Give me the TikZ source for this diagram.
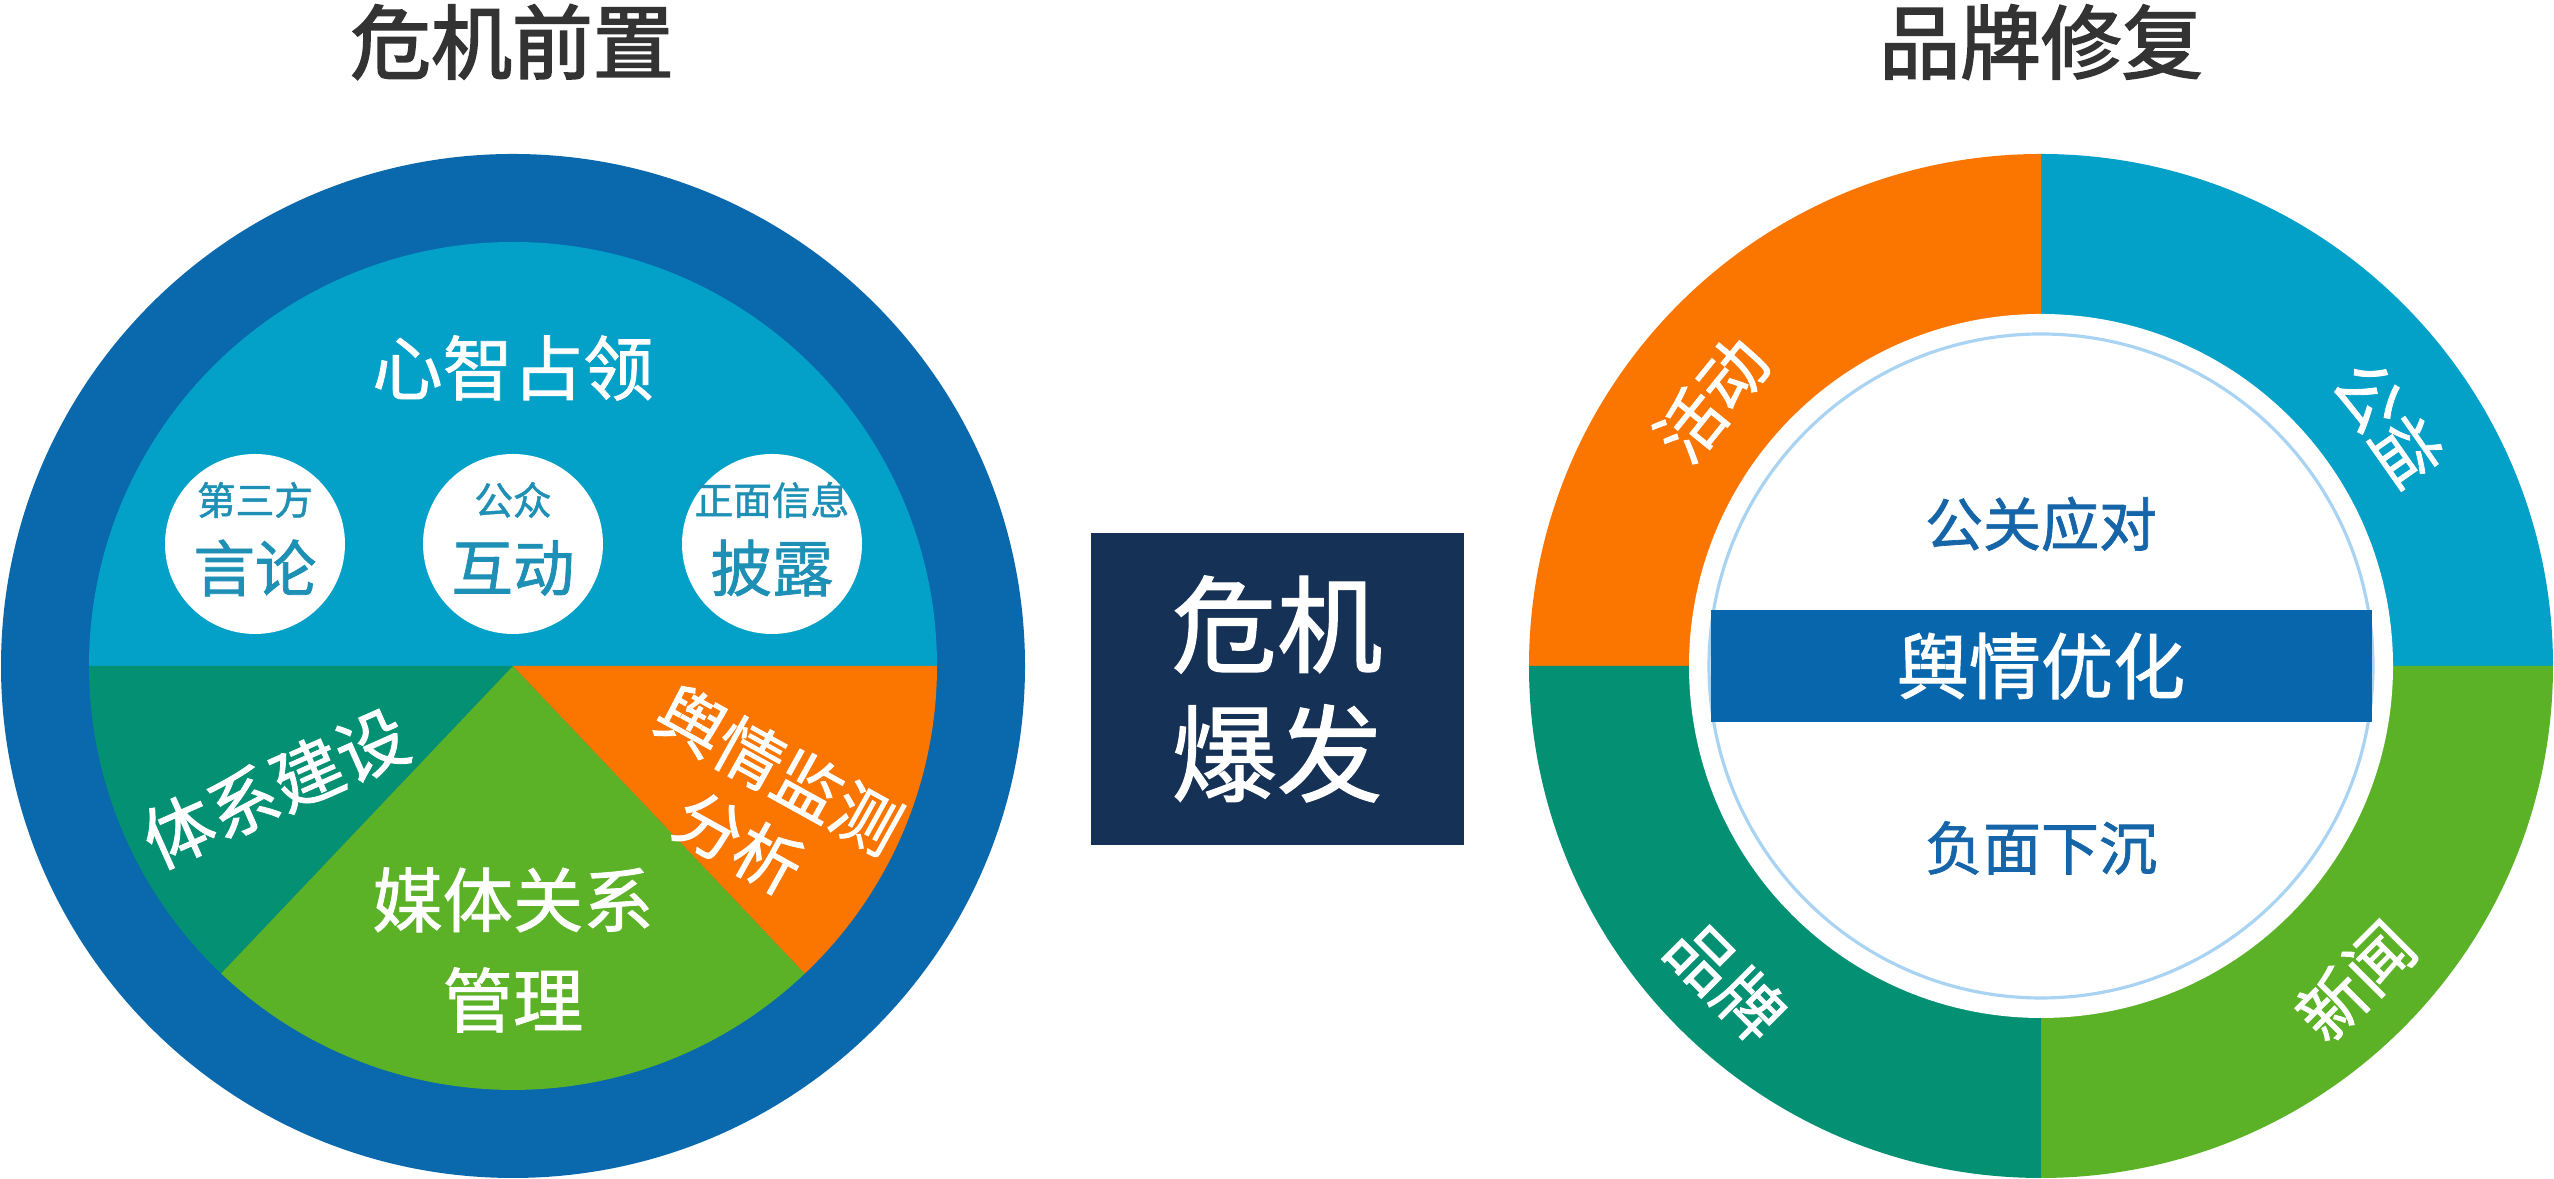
\documentclass[tikz,border=0pt]{standalone}
\usepackage{fontspec}
\setmainfont{Noto Sans CJK SC}[FakeBold=1.2]
\newfontfamily\headfont{Noto Sans CJK SC}[FakeBold=2.2]
\definecolor{ringblue}{HTML}{0A68AD}
\definecolor{skyblue}{HTML}{03A0C8}
\definecolor{tealgreen}{HTML}{049073}
\definecolor{leafgreen}{HTML}{5CB227}
\definecolor{signalorange}{HTML}{FB7600}
\definecolor{navybox}{HTML}{153156}
\definecolor{bandblue}{HTML}{0866AD}
\definecolor{dottext}{HTML}{1E90B6}
\definecolor{innertext}{HTML}{1565A8}
\definecolor{thinring}{HTML}{A9D3F2}
\definecolor{titlegray}{HTML}{333333}

\begin{document}
\begin{tikzpicture}[
    title/.style={text=titlegray, font=\headfont\fontsize{23}{28}\selectfont},
    lbl/.style={text=white, align=center, font=\fontsize{20}{28.5}\selectfont},
    ringlbl/.style={text=white, font=\fontsize{19}{23}\selectfont},
    dot/.style={circle, fill=white, minimum size=1.8cm, inner sep=0pt},
    dotsmall/.style={text=dottext, font=\fontsize{11}{13}\selectfont},
    dotbig/.style={text=dottext, font=\fontsize{17.5}{21}\selectfont},
    innerlbl/.style={text=innertext, font=\fontsize{16.5}{20}\selectfont}
]
\useasboundingbox (0,0) rectangle (25.54,11.79);

% titles
\node[title] (pre) at (5.12,11.37) {危机前置};
\node[title] (fix) at (20.41,11.37) {品牌修复};

% left wheel
\begin{scope}[shift={(5.13,5.13)}]
    \fill[ringblue] (0,0) circle (5.12);
    \fill[skyblue] (4.24,0) arc[start angle=0, end angle=180, radius=4.24] -- cycle;
    \fill[tealgreen] (0,0) -- (-4.24,0) arc[start angle=180, end angle=226.5, radius=4.24] -- cycle;
    \fill[leafgreen] (0,0) -- (226.5:4.24) arc[start angle=226.5, end angle=313.5, radius=4.24] -- cycle;
    \fill[signalorange] (0,0) -- (313.5:4.24) arc[start angle=313.5, end angle=360, radius=4.24] -- cycle;
    \node[lbl] (mind) at (0,2.98) {心智占领};
    \node[dot] (d1) at (-2.58,1.22) {};
    \node[dot] (d2) at (0,1.22) {};
    \node[dot] (d3) at (2.59,1.22) {};
    \node[dotsmall] at ([yshift=0.44cm]d1) {第三方};
    \node[dotbig] at ([yshift=-0.24cm]d1) {言论};
    \node[dotsmall] at ([yshift=0.44cm]d2) {公众};
    \node[dotbig] at ([yshift=-0.24cm]d2) {互动};
    \node[dotsmall] at ([yshift=0.44cm]d3) {正面信息};
    \node[dotbig] at ([yshift=-0.24cm]d3) {披露};
    \node[lbl, rotate=24] (sys) at (-2.38,-1.22) {体系建设};
    \node[lbl, rotate=-29, font=\fontsize{19}{23.6}\selectfont] (watch) at (2.46,-1.40) {舆情监测\\分析};
    \node[lbl] (media) at (0,-2.84) {媒体关系\\管理};
\end{scope}

% centre box
\node[fill=navybox, minimum width=3.73cm, minimum height=3.12cm, text=white,
    align=center, font=\fontsize{30}{36.7}\selectfont] (burst) at (12.77,4.90) {危机\\爆发};

% right wheel
\begin{scope}[shift={(20.41,5.13)}]
    \foreach \c [count=\i] in {skyblue,signalorange,tealgreen,leafgreen}
        \fill[\c] (0,0) -- ({90*(\i-1)}:5.12) arc[start angle={90*(\i-1)}, delta angle=90, radius=5.12] -- cycle;
    \fill[white] (0,0) circle (3.52);
    \draw[thinring, line width=0.9pt] (0,0) circle (3.32);
    \node[fill=bandblue, minimum width=6.61cm, minimum height=1.12cm, text=white,
        font=\fontsize{20.5}{24}\selectfont] (opt) at (0,0) {舆情优化};
    \node[innerlbl] (pr) at (0,1.42) {公关应对};
    \node[innerlbl] (sink) at (0,-1.82) {负面下沉};
    \node[ringlbl, rotate=51] (act) at (141:4.24) {活动};
    \node[ringlbl, rotate=-55] (pub) at (35:4.24) {公益};
    \node[ringlbl, rotate=-45] (brand) at (225:4.45) {品牌};
    \node[ringlbl, rotate=45] (news) at (-45:4.45) {新闻};
\end{scope}
\end{tikzpicture}
\end{document}
